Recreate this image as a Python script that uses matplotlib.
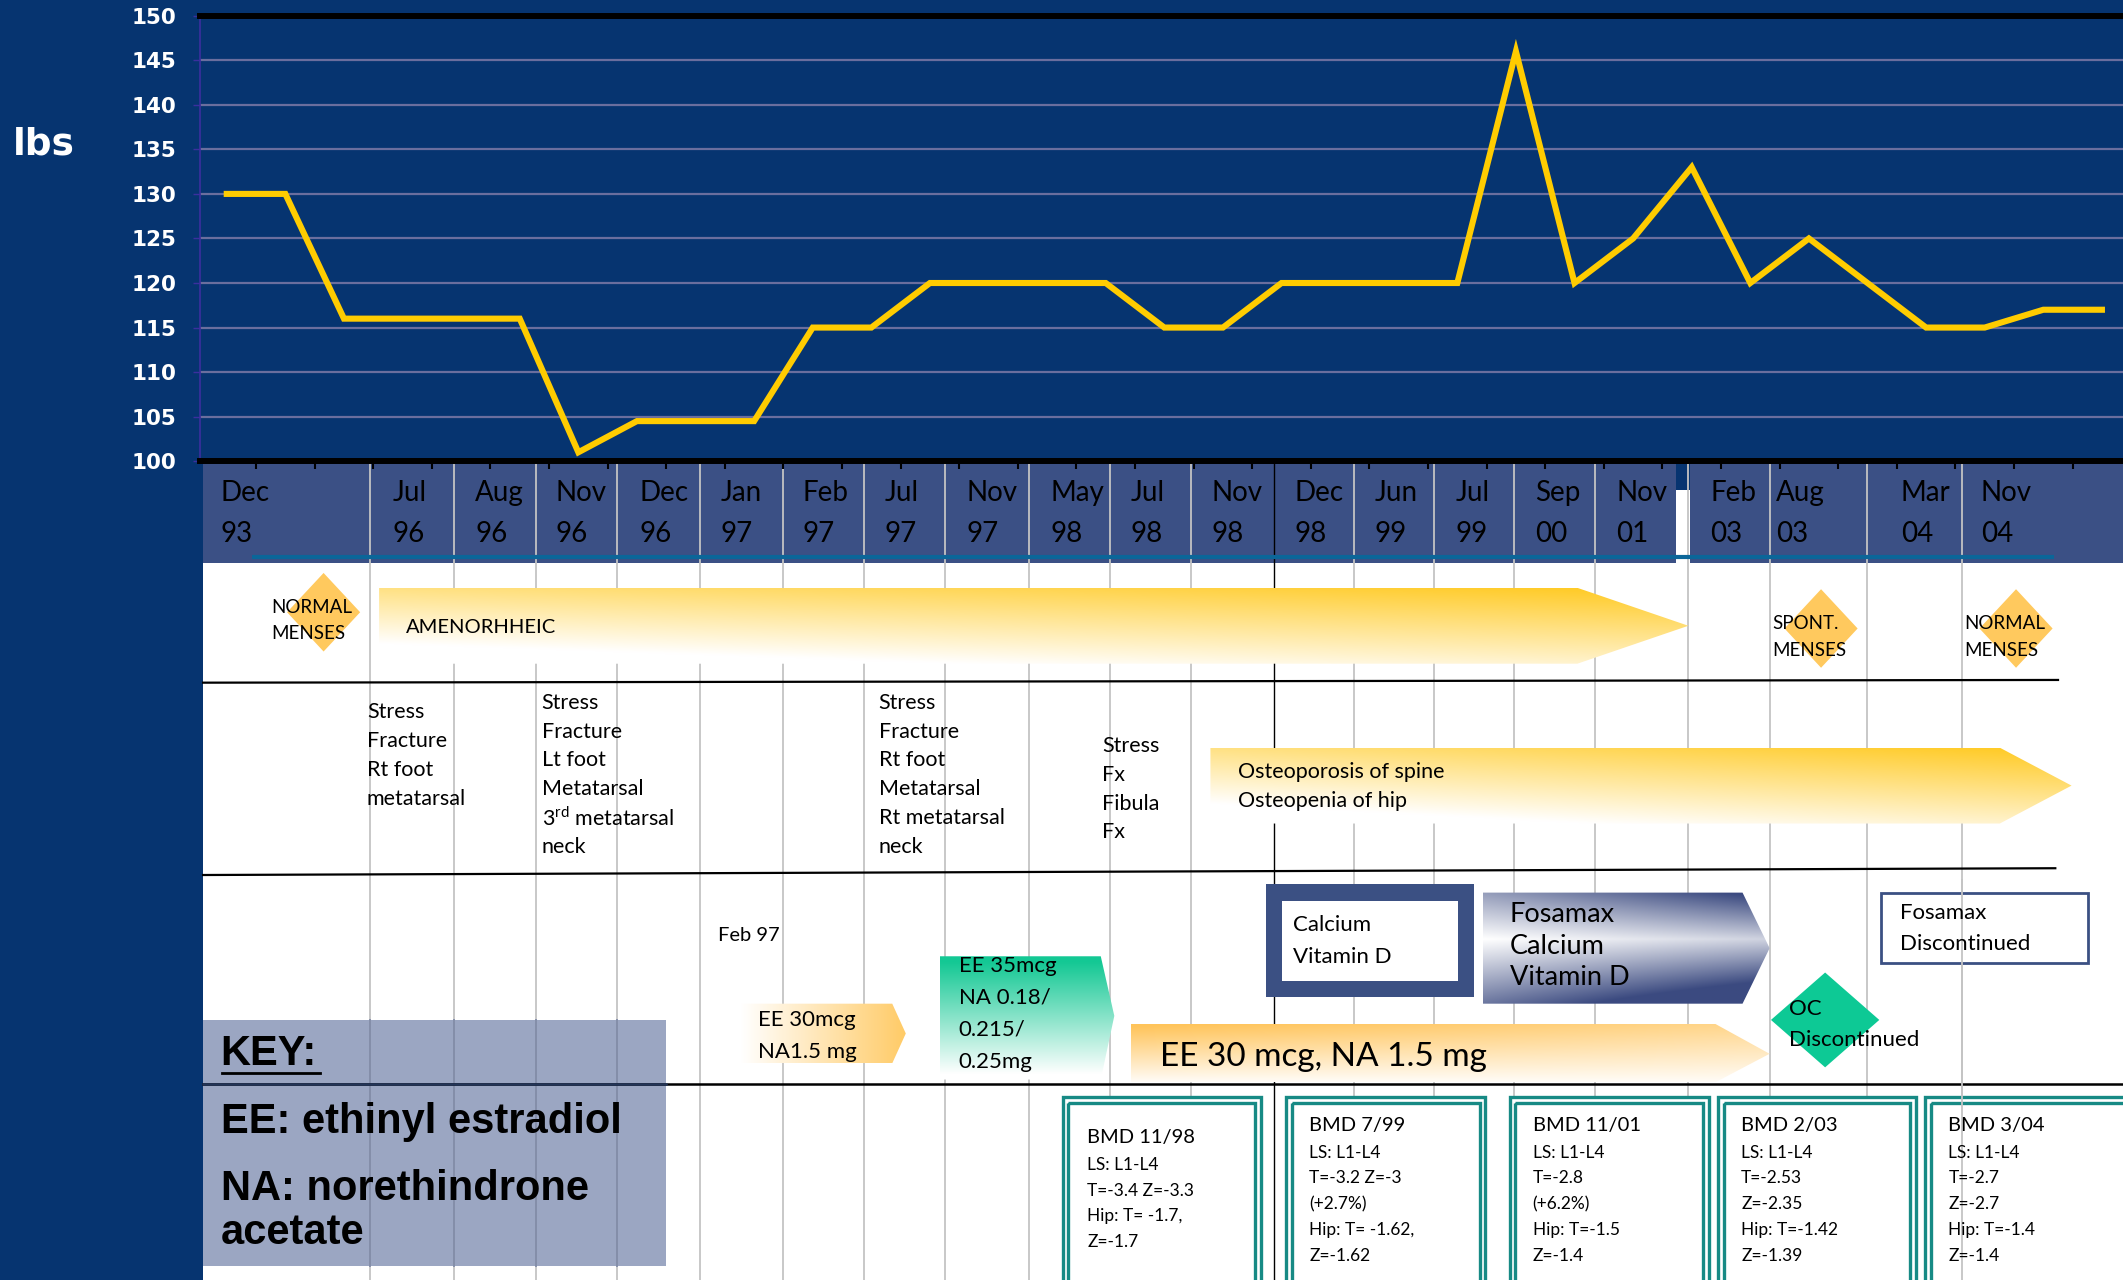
import matplotlib.pyplot as plt
import numpy as np
from matplotlib.patches import Polygon, Rectangle

plt.rcParams['mathtext.fontset'] = 'custom'
plt.rcParams['mathtext.rm'] = 'Lato'

# body weight at each visit (lbs)
weights = [130, 130, 116, 116, 116, 116, 101, 104.5, 104.5, 104.5, 115, 115,
           120, 120, 120, 120, 115, 115, 120, 120, 120, 120, 146, 120, 125,
           133, 120, 125, 120, 115, 115, 117, 117]
weight_ticks = list(range(100, 151, 5))

visit_months = ['Dec', 'Jul', 'Aug', 'Nov', 'Dec', 'Jan', 'Feb', 'Jul', 'Nov', 'May', 'Jul',
                'Nov', 'Dec', 'Jun', 'Jul', 'Sep', 'Nov', 'Feb', 'Aug', 'Mar', 'Nov']
visit_years = ['93', '96', '96', '96', '96', '97', '97', '97', '97', '98', '98',
               '98', '98', '99', '99', '00', '01', '03', '03', '04', '04']

fracture_notes = [
    ['Stress', 'Fracture', 'Rt foot', 'metatarsal'],
    ['Stress', 'Fracture', 'Lt foot', 'Metatarsal', '3$^{\\mathrm{rd}}$ metatarsal', 'neck'],
    ['Stress', 'Fracture', 'Rt foot', 'Metatarsal', 'Rt metatarsal', 'neck'],
    ['Stress', 'Fx', 'Fibula', 'Fx'],
]
bmd_titles = ['BMD 11/98', 'BMD 7/99', 'BMD 11/01', 'BMD 2/03', 'BMD 3/04']
bmd_details = [
    ['LS: L1-L4', 'T=-3.4 Z=-3.3', 'Hip: T= -1.7,', 'Z=-1.7'],
    ['LS: L1-L4', 'T=-3.2 Z=-3', '(+2.7%)', 'Hip: T= -1.62,', 'Z=-1.62'],
    ['LS: L1-L4', 'T=-2.8', '(+6.2%)', 'Hip: T=-1.5', 'Z=-1.4'],
    ['LS: L1-L4', 'T=-2.53', 'Z=-2.35', 'Hip: T=-1.42', 'Z=-1.39'],
    ['LS: L1-L4', 'T=-2.7', 'Z=-2.7', 'Hip: T=-1.4', 'Z=-1.4'],
]
key_lines = ['EE: ethinyl estradiol', 'NA: norethindrone', 'acetate']

# ---- layout (slide pixel coords, 1568 x 945) ----
W, H = 1568, 945
NAVY = '#063470'
TXT = 'Lato'
date_x = [163, 290, 351, 410, 472, 532, 593, 653, 714, 776, 835,
          895, 956, 1015, 1075, 1134, 1194, 1263, 1312, 1404, 1463]
vlines = [273, 335, 396, 456, 517, 578, 638, 698, 760, 820, 880, 941,
          1000, 1059, 1118, 1178, 1247, 1307, 1379, 1449]
fracture_pos = [(271, 526), (400, 519), (649, 519), (814, 551)]
bmd_x = [(785, 931), (950, 1097), (1115, 1262), (1269, 1415), (1422, 1575)]
bmd_text_x = [803, 967, 1132, 1286, 1439]

fig = plt.figure(figsize=(21.23, 12.8), dpi=100, facecolor=NAVY)
ov = fig.add_axes([0, 0, 1, 1], zorder=1)
ov.axis('off')


def lines(x, y, texts, dy, size, z=6, **kw):
    for i, t in enumerate(texts):
        ov.text(x, y + i * dy, t, fontsize=size, family=TXT, va='center', ha='left',
                color='black', zorder=z, **kw)


def blend(c0, c1, t):
    c0 = np.array(plt.matplotlib.colors.to_rgb(c0))
    c1 = np.array(plt.matplotlib.colors.to_rgb(c1))
    t = np.clip(t, 0, 1)[..., None]
    return c0 + (c1 - c0) * t


def grad_shape(verts, c0, c1, tfunc, z=3):
    poly = Polygon(verts, closed=True, facecolor='none', edgecolor='none', zorder=z)
    ov.add_patch(poly)
    xs = [v[0] for v in verts]
    ys = [v[1] for v in verts]
    xf, yf = np.meshgrid(np.linspace(0, 1, 300), np.linspace(0, 1, 120))
    img = blend(c0, c1, tfunc(xf, yf))
    im = ov.imshow(img, extent=(min(xs), max(xs), max(ys), min(ys)), origin='upper',
                   aspect='auto', zorder=z, interpolation='bilinear')
    im.set_clip_path(poly)


def diamond(cx, cy, hw, hh, color, z=3):
    ov.add_patch(Polygon([(cx - hw, cy), (cx, cy - hh), (cx + hw, cy), (cx, cy + hh)],
                         closed=True, facecolor=color, edgecolor='none', zorder=z))


# backgrounds
ov.add_patch(Rectangle((150, 415), W - 150, H - 415, facecolor='white', zorder=0.5))
ov.add_patch(Rectangle((150, 342), W - 150, 74, facecolor='#3B5085', zorder=1))
ov.add_patch(Rectangle((1238, 362), 10, 54, facecolor='white', zorder=1.1))
ov.add_patch(Rectangle((1238, 342), 10, 20, facecolor=NAVY, zorder=1.1))

# key box (under the grid lines)
ov.add_patch(Rectangle((150, 753), 342, 182, facecolor='#9BA6C2', zorder=1.2))

# vertical guide lines
for x in vlines:
    col = 'black' if x == 941 else '#C4C4C4'
    ov.plot([x, x], [342, H], color=col, lw=1.3 if x != 941 else 1.0, zorder=2)
    if 150 < x < 492:
        ov.plot([x, x], [753, 935], color='#7E89A7', lw=1.3, zorder=2.1)
ov.plot([1449, 1449], [650, H], color='#C4C4C4', lw=1.3, zorder=4.5)

# teal rule under dates
ov.plot([186, 1517], [411, 411], color='#0B6699', lw=3, zorder=2.5, solid_capstyle='butt')

# date labels
for x, m, yv in zip(date_x, visit_months, visit_years):
    ov.text(x, 364, m, fontsize=20, family=TXT, va='center', ha='left', zorder=3)
    ov.text(x, 394, yv, fontsize=20, family=TXT, va='center', ha='left', zorder=3)

# row separators
ov.plot([150, 1520], [504, 502], color='black', lw=1.6, zorder=2.2)
ov.plot([150, 1518], [646, 641], color='black', lw=1.6, zorder=2.2)
ov.plot([150, W], [800, 800], color='black', lw=1.8, zorder=2.2)

# row 1: menses
gold = '#FFC91F'
grad_shape([(280, 434), (1165, 434), (1247, 462), (1165, 490), (280, 490)], 'white', gold,
           lambda xf, yf: 0.75 * (1 - yf) + 0.45 * xf - 0.2)
lines(300, 463, ['AMENORHHEIC'], 0, 14.5)
for cx, cy, tx, txt in [(239, 452, 200, ['NORMAL', 'MENSES']),
                        (1345, 464, 1309, ['SPONT.', 'MENSES']),
                        (1489, 464, 1451, ['NORMAL', 'MENSES'])]:
    diamond(cx, cy, 27, 29, '#FFC95E')
    lines(tx, cy - 3.5, txt, 19.5, 13.5)

# row 2: fractures, bone density
for (x, y), notes in zip(fracture_pos, fracture_notes):
    lines(x, y, notes, 21.2, 15.5)
grad_shape([(894, 552), (1477, 552), (1530, 580), (1477, 608), (894, 608)], 'white', gold,
           lambda xf, yf: 0.75 * (1 - yf) + 0.45 * xf - 0.2)
lines(914, 570, ['Osteoporosis of spine', 'Osteopenia of hip'], 21.5, 15.5)

# row 3: treatment
lines(530, 691, ['Feb 97'], 0, 14.5)
grad_shape([(547, 741), (659, 741), (669, 763), (659, 785), (547, 785)], 'white', '#FFC85E',
           lambda xf, yf: 0.95 * xf)
lines(560, 753, ['EE 30mcg', 'NA1.5 mg'], 23.5, 16)
grad_shape([(694, 706), (813, 706), (823, 750), (813, 797), (694, 797)], 'white', '#14C894',
           lambda xf, yf: 1.05 - 1.1 * yf)
lines(708, 713, ['EE 35mcg', 'NA 0.18/', '0.215/', '0.25mg'], 23.7, 16)
grad_shape([(835, 756), (1267, 756), (1307, 778), (1267, 799), (835, 799)], 'white', '#FFC45A',
           lambda xf, yf: (1 - yf) * (1.0 - 0.35 * xf) + 0.05)
lines(857, 780, ['EE 30 mcg, NA 1.5 mg'], 0, 24)

ov.add_patch(Rectangle((935, 653), 154, 83, facecolor='#3B5083', zorder=3))
ov.add_patch(Rectangle((947, 665), 130, 59, facecolor='white', zorder=3.1))
lines(955, 683, ['Calcium', 'Vitamin D'], 23.5, 16)

grad_shape([(1095, 659), (1287, 659), (1307, 700), (1287, 741), (1095, 741)], 'white', '#3B4A80',
           lambda xf, yf: np.abs(yf - 0.42) * 2.0 * (0.65 + 0.35 * xf) + 0.25 * xf)
lines(1115, 675, ['Fosamax', 'Calcium', 'Vitamin D'], 23.5, 19.5)

ov.add_patch(Rectangle((1389, 659), 153, 52, facecolor='white', edgecolor='#3B5083',
                       lw=2, zorder=3))
lines(1403, 674, ['Fosamax', 'Discontinued'], 23, 16)

diamond(1348, 753, 40, 35, '#0DC995')
lines(1321, 745, ['OC', 'Discontinued'], 23, 16)

# key
KEYF = 'Liberation Sans'
ov.plot([150, 492], [800, 800], color='#233457', lw=1.8, zorder=2.3)
ov.text(163, 778, 'KEY:', fontsize=30, family=KEYF, weight='bold', va='center', zorder=6)
ov.plot([164, 236], [792, 792], color='black', lw=2, zorder=6)
for t, y in zip(key_lines, [828, 878, 910]):
    ov.text(163, y, t, fontsize=30, family=KEYF, weight='bold', va='center', zorder=6)

# BMD boxes
teal = '#178A85'
for i, ((x0, x1), tx, title, det) in enumerate(zip(bmd_x, bmd_text_x, bmd_titles, bmd_details)):
    ov.add_patch(Rectangle((x0, 810), x1 - x0, 150, facecolor='white', edgecolor=teal,
                           lw=2.4, zorder=3))
    ov.add_patch(Rectangle((x0 + 4, 814), x1 - x0 - 8, 150, facecolor='none', edgecolor=teal,
                           lw=2.4, zorder=3.1))
    ty = 840 if i == 0 else 831
    lines(tx, ty, [title], 0, 14.5)
    lines(tx, ty + 20, det, 19, 12.5)

ov.set_xlim(0, W)
ov.set_ylim(H, 0)

# ---- weight chart ----
ax = fig.add_axes([148 / W, 1 - 340.5 / H, 1 - 148 / W, (340.5 - 11.6) / H], zorder=2)
ax.set_facecolor(NAVY)
xs = np.arange(len(weights))
ax.plot(xs, weights, color='#FFCC00', lw=4.4, zorder=3, solid_joinstyle='miter')
ax.set_ylim(100, 150)
ax.set_xlim(-0.45, 32.36)
ax.set_yticks(weight_ticks)
ax.set_yticklabels([str(v) for v in weight_ticks], family='DejaVu Sans', weight='bold',
                   fontsize=15.5, color='white')
ax.grid(axis='y', color='#6A6E9E', lw=1.6)
ax.set_axisbelow(True)
ax.set_xticks(np.arange(0.5, 32.4, 1))
ax.set_xticklabels([])
ax.tick_params(axis='x', direction='out', length=6, width=1.5, color='black')
ax.tick_params(axis='y', direction='out', length=5, width=1, color='#3B2F9E', pad=12)
ax.spines['top'].set_color('black')
ax.spines['top'].set_linewidth(4.3)
ax.spines['bottom'].set_color('black')
ax.spines['bottom'].set_linewidth(4.3)
ax.spines['left'].set_color('#3B2F9E')
ax.spines['left'].set_linewidth(1.2)
ax.spines['right'].set_visible(False)
fig.text(32 / W, 1 - 107 / H, 'lbs', color='white', fontsize=27, family='DejaVu Sans',
         weight='bold', ha='center', va='center')

fig.savefig('out.png', dpi=100, facecolor=NAVY)
